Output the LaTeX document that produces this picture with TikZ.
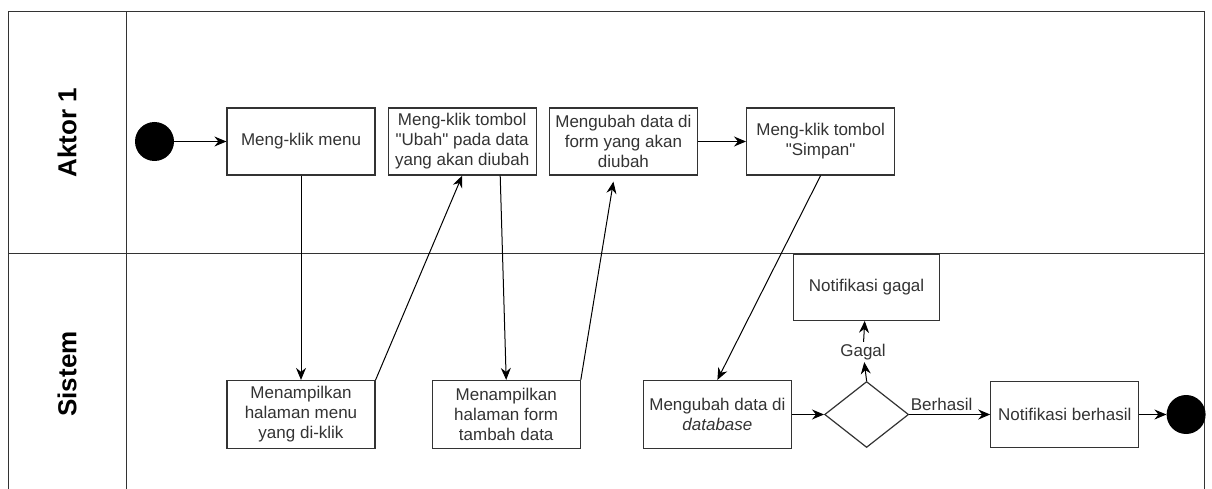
\documentclass[tikz,border=0pt]{standalone}
\usepackage{fontspec}
\setmainfont{Liberation Sans}[Ligatures=TeXOff]
\usepackage{tikz}
\usetikzlibrary{arrows.meta,positioning,shapes.geometric}
\definecolor{laneink}{HTML}{333333}

\begin{document}
\begin{tikzpicture}[x=1pt, y=1pt,
  act/.style={draw=laneink, line width=1.2pt, minimum width=148pt, minimum height=67pt, inner sep=2pt, align=center, text=laneink, font=\fontsize{17}{20}\selectfont},
  dot/.style={circle, fill=black, minimum size=39pt, inner sep=0pt},
  choice/.style={diamond, draw=laneink, line width=1.2pt, minimum width=84pt, minimum height=66pt, inner sep=0pt},
  lanetitle/.style={rotate=90, font=\fontsize{26}{30}\selectfont\bfseries},
  lbl/.style={text=laneink, font=\fontsize{17}{20}\selectfont, inner xsep=2pt, inner ysep=2pt},
  arrow/.style={-{Stealth[length=12pt, width=10pt, inset=4pt]}, line width=1pt}
]
\useasboundingbox[fill=white] (0,0) rectangle (1212,-489);
\clip (0,0) rectangle (1212,-489);

% swimlanes
\draw[laneink, line width=1pt] (8,-12) rectangle (1204,-495);
\draw[laneink, line width=1pt] (126,-12) -- (126,-495);
\draw[laneink, line width=1pt] (8,-253) -- (1204,-253);
\node[lanetitle] (aktor) at (67,-132.5) {Aktor 1};
\node[lanetitle] (sistem) at (67,-374) {Sistem};

% aktor lane
\node[dot] (start) at (154.5,-141.5) {};
\node[act] (klik) at (301,-141.5) {Meng-klik menu};
\node[act, right=12pt of klik] (ubah) {Meng-klik tombol\\"Ubah" pada data\\yang akan diubah};
\node[act, right=12pt of ubah] (form) {Mengubah data di\\form yang akan\\diubah};
\node[act, right=48pt of form] (simpan) {Meng-klik tombol\\"Simpan"};

% sistem lane
\node[act, minimum height=68pt] (menu) at (301,-414.5) {Menampilkan\\halaman menu\\yang di-klik};
\node[act, minimum height=68pt, right=56pt of menu] (tambah) {Menampilkan\\halaman form\\tambah data};
\node[act, minimum height=68pt, right=62pt of tambah] (db) {Mengubah data di\\\textit{database}};
\node[choice, right=32pt of db] (cek) {};
\node[act, minimum height=66pt, right=81pt of cek] (sukses) {Notifikasi berhasil};
\node[dot, right=27pt of sukses] (end) {};
\node[act, minimum height=66pt, minimum width=146pt, above=60pt of cek] (gagal) {Notifikasi gagal};
\node[lbl] (lblgagal) at (863,-352) {Gagal};

\draw[arrow] (start) -- (klik);
\draw[arrow] (klik) -- (menu);
\draw[arrow] (menu.north east) -- (ubah.south);
\draw[arrow] ([xshift=38pt]ubah.south) -- (tambah.north);
\draw[arrow] (tambah.north east) -- ([xshift=-10pt,yshift=-6pt]form.south);
\draw[arrow] (form) -- (simpan);
\draw[arrow] (simpan.south) -- (db.north);
\draw[arrow] (db) -- (cek);
\draw[arrow] (cek) -- node[lbl, pos=0.4, above, inner ysep=3pt] {Berhasil} (sukses);
\draw[arrow] (cek.north) -- (lblgagal);
\draw[arrow] (lblgagal) -- (gagal);
\draw[arrow] (sukses) -- (end);
\end{tikzpicture}
\end{document}
